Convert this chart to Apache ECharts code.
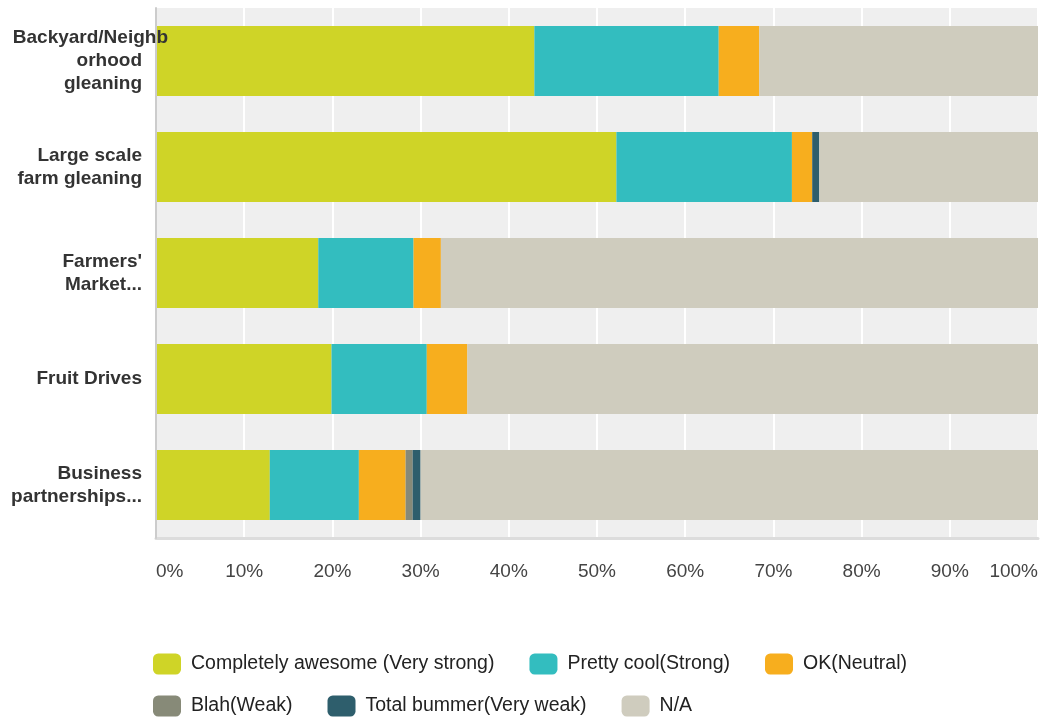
<!DOCTYPE html>
<html>
<head>
<meta charset="utf-8">
<script src="https://cdn.jsdelivr.net/npm/echarts@6/dist/echarts.min.js"></script>
<style>html,body{margin:0;padding:0;background:#fff;}#chart{width:1041px;height:719px;}</style>
</head>
<body>
<div id="chart"></div>
<script>
const categories = ["Backyard/Neighb\norhood\ngleaning", "Large scale\nfarm gleaning", "Farmers'\nMarket...", "Fruit Drives", "Business\npartnerships..."];
const overhangLines = ["Backyard/Neighb"];
const seriesNames = ["Completely awesome (Very strong)", "Pretty cool(Strong)", "OK(Neutral)", "Blah(Weak)", "Total bummer(Very weak)", "N/A"];
const veryStrong = [42.9, 52.2, 18.4, 19.9, 12.9];
const strong     = [20.9, 19.9, 10.8, 10.8, 10.1];
const neutral    = [4.6, 2.3, 3.1, 4.6, 5.3];
const weak       = [0, 0, 0, 0, 0.8];
const veryWeak   = [0, 0.8, 0, 0, 0.9];
const notApplicable = [31.6, 24.8, 67.7, 64.7, 70.0];
const xTickLabels = ["0%", "10%", "20%", "30%", "40%", "50%", "60%", "70%", "80%", "90%", "100%"];

const colors = ["#CFD427", "#33BDBF", "#F7AE1E", "#878A78", "#2E5E6C", "#CFCCBE"];
const values = [veryStrong, strong, neutral, weak, veryWeak, notApplicable];

const chart = echarts.init(document.getElementById('chart'));
const font = "'Liberation Sans', Arial, sans-serif";
const legendCommon = {
  orient: 'horizontal', itemWidth: 28, itemHeight: 21, itemGap: 35, icon: 'roundRect',
  textStyle: { fontSize: 19.5, color: '#222', fontFamily: font, padding: [0, 0, 0, 5] }
};
chart.setOption({
  animation: false,
  color: colors,
  grid: { left: 156, right: 2, top: 8, bottom: 181, show: true, backgroundColor: '#efefef', borderWidth: 0 },
  legend: [
    Object.assign({ left: 148, top: 648.5, data: seriesNames.slice(0, 3) }, legendCommon),
    Object.assign({ left: 148, top: 690.5, data: seriesNames.slice(3) }, legendCommon)
  ],
  xAxis: {
    type: 'value', min: 0, max: 100, interval: 10,
    axisLine: { show: true, lineStyle: { color: '#dcdcdc', width: 3 } },
    axisTick: { show: false },
    splitLine: { show: true, lineStyle: { color: '#ffffff', width: 2 } },
    axisLabel: {
      margin: 24, fontSize: 19, color: '#444', fontFamily: font,
      alignMinLabel: 'left', alignMaxLabel: 'right',
      formatter: v => xTickLabels[Math.round(v / 10)]
    }
  },
  yAxis: {
    type: 'category', inverse: true, data: categories, z: 10,
    axisLine: { show: true, lineStyle: { color: '#cccccc', width: 2 } },
    axisTick: { show: false },
    splitLine: { show: false },
    axisLabel: {
      margin: -12, align: 'right',
      formatter: v => v.split('\n').map(l => overhangLines.includes(l) ? '{w|' + l + '}' : '{n|' + l + '}').join('\n'),
      rich: {
        w: { fontSize: 19, fontWeight: 'bold', color: '#333', fontFamily: font, lineHeight: 23 },
        n: { fontSize: 19, fontWeight: 'bold', color: '#333', fontFamily: font, lineHeight: 23, padding: [0, 26, 0, 0] }
      }
    }
  },
  series: seriesNames.map((name, i) => ({
    name: name, type: 'bar', stack: 'total', barWidth: 70,
    data: values[i], itemStyle: { color: colors[i] }
  }))
});
</script>
</body>
</html>
